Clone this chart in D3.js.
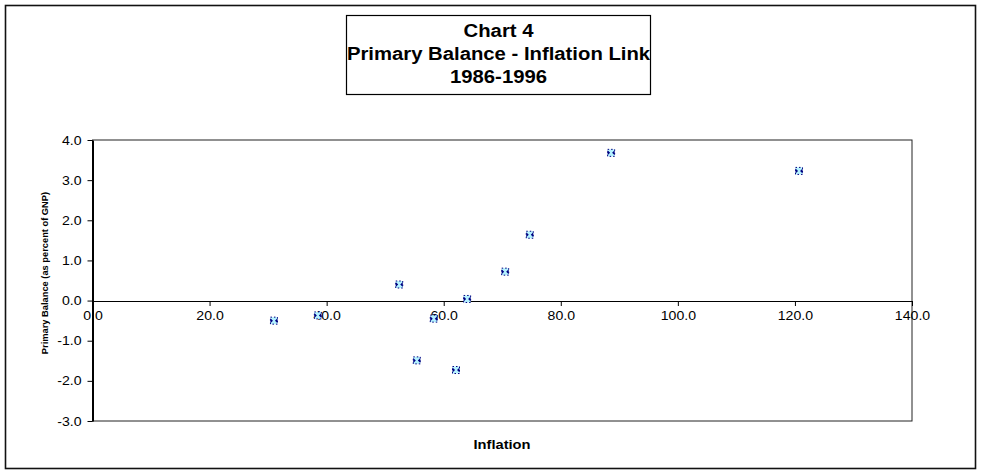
<!DOCTYPE html>
<html>
<head>
<meta charset="utf-8">
<script src="https://cdn.jsdelivr.net/npm/d3@7"></script>
<style>
body { margin: 0; background: #fff; }
svg text { font-family: "Liberation Sans", Arial, sans-serif; }
</style>
</head>
<body>
<div id="chart"></div>
<script>
// years 1986-1996, inflation vs primary balance
var years = [1986, 1987, 1988, 1989, 1990, 1991, 1992, 1993, 1994, 1995, 1996];
var inflation = [31.0, 38.5, 52.4, 55.4, 58.3, 62.1, 64.0, 70.5, 74.7, 88.6, 120.7];
var balance = [-0.50, -0.37, 0.40, -1.49, -0.45, -1.73, 0.04, 0.72, 1.64, 3.68, 3.23];
var xTicks = [0, 20, 40, 60, 80, 100, 120, 140];
var yTicks = [-3, -2, -1, 0, 1, 2, 3, 4];
var titleLines = ["Chart 4", "Primary Balance - Inflation Link", "1986-1996"];

var width = 981, height = 476;
var plot = {left: 92.5, right: 912, top: 140, bottom: 421};
var stretch = 1.13; // text in the picture is a bit wide
var fmt = function(d) { return d.toFixed(1); }; // plain hyphen for negatives

var svg = d3.select("#chart").append("svg")
    .attr("width", width).attr("height", height);

// outer frame
svg.append("rect").attr("x", 5.5).attr("y", 5.5).attr("width", 970).attr("height", 463)
    .attr("fill", "#fff").attr("stroke", "#111").attr("stroke-width", 1.6);

var x = d3.scaleLinear().domain([0, 140]).range([plot.left, plot.right]);
var y = d3.scaleLinear().domain([-3, 4]).range([plot.bottom, plot.top]);

// plot area border
svg.append("rect").attr("x", plot.left).attr("y", plot.top)
    .attr("width", plot.right - plot.left).attr("height", plot.bottom - plot.top)
    .attr("fill", "none").attr("stroke", "#222").attr("stroke-width", 1);

function widen(sel) {
    sel.each(function() {
        var t = d3.select(this);
        var tx = +t.attr("x") || 0;
        t.attr("transform", "scale(" + stretch + ",1)").attr("x", tx / stretch);
    });
}

// y axis
var yAxis = d3.axisLeft(y).tickValues(yTicks).tickSize(5).tickSizeOuter(0).tickPadding(6)
    .tickFormat(fmt);
var gy = svg.append("g").attr("transform", "translate(" + plot.left + ",0)").call(yAxis);
gy.select(".domain").attr("stroke", "#000").attr("stroke-width", 2);
gy.selectAll("text").attr("font-size", 12.5).attr("fill", "#000").call(widen);

// x axis across zero
var xAxis = d3.axisBottom(x).tickValues(xTicks).tickSize(5).tickSizeOuter(0).tickPadding(5)
    .tickFormat(fmt);
var gx = svg.append("g").attr("transform", "translate(0," + Math.round(y(0)) + ")").call(xAxis);
gx.select(".domain").attr("stroke", "#000").attr("stroke-width", 1);
gx.selectAll("text").attr("font-size", 12.5).attr("fill", "#000").call(widen);

// axis titles
svg.append("text").attr("transform", "translate(502,449) scale(" + stretch + ",1)")
    .attr("text-anchor", "middle").attr("font-size", 13).attr("font-weight", "bold")
    .text("Inflation");
svg.append("text")
    .attr("transform", "translate(48,273) rotate(-90)")
    .attr("text-anchor", "middle").attr("font-size", 9.3).attr("font-weight", "bold")
    .text("Primary Balance (as percent of GNP)");

// markers
var pts = years.map(function(yr, i) { return {yr: yr, x: inflation[i], y: balance[i]}; });
var m = svg.selectAll("g.pt").data(pts).enter().append("g").attr("class", "pt")
    .attr("transform", function(d) { return "translate(" + x(d.x) + "," + y(d.y) + ")"; });
m.append("rect").attr("x", -3.5).attr("y", -3.5).attr("width", 7).attr("height", 7)
    .attr("fill", "#b4f2ff").attr("stroke", "#000080").attr("stroke-width", 1)
    .attr("stroke-dasharray", "1.5,2");
m.append("path").attr("d", "M-3.5,-2.5L-1,0L-3.5,2.5ZM3.5,-2.5L1,0L3.5,2.5Z")
    .attr("fill", "#000080");

// title box
var tb = {x: 346.5, y: 15.5, w: 304, h: 79};
svg.append("rect").attr("x", tb.x).attr("y", tb.y).attr("width", tb.w).attr("height", tb.h)
    .attr("fill", "#fff").attr("stroke", "#000").attr("stroke-width", 1.2);
svg.selectAll("text.title").data(titleLines).enter().append("text").attr("class", "title")
    .attr("transform", function(d, i) {
        return "translate(" + (tb.x + tb.w / 2) + "," + (37 + i * 23) + ") scale(1.16,1)";
    })
    .attr("text-anchor", "middle").attr("font-size", 17.5).attr("font-weight", "bold")
    .text(function(d) { return d; });
</script>
</body>
</html>
